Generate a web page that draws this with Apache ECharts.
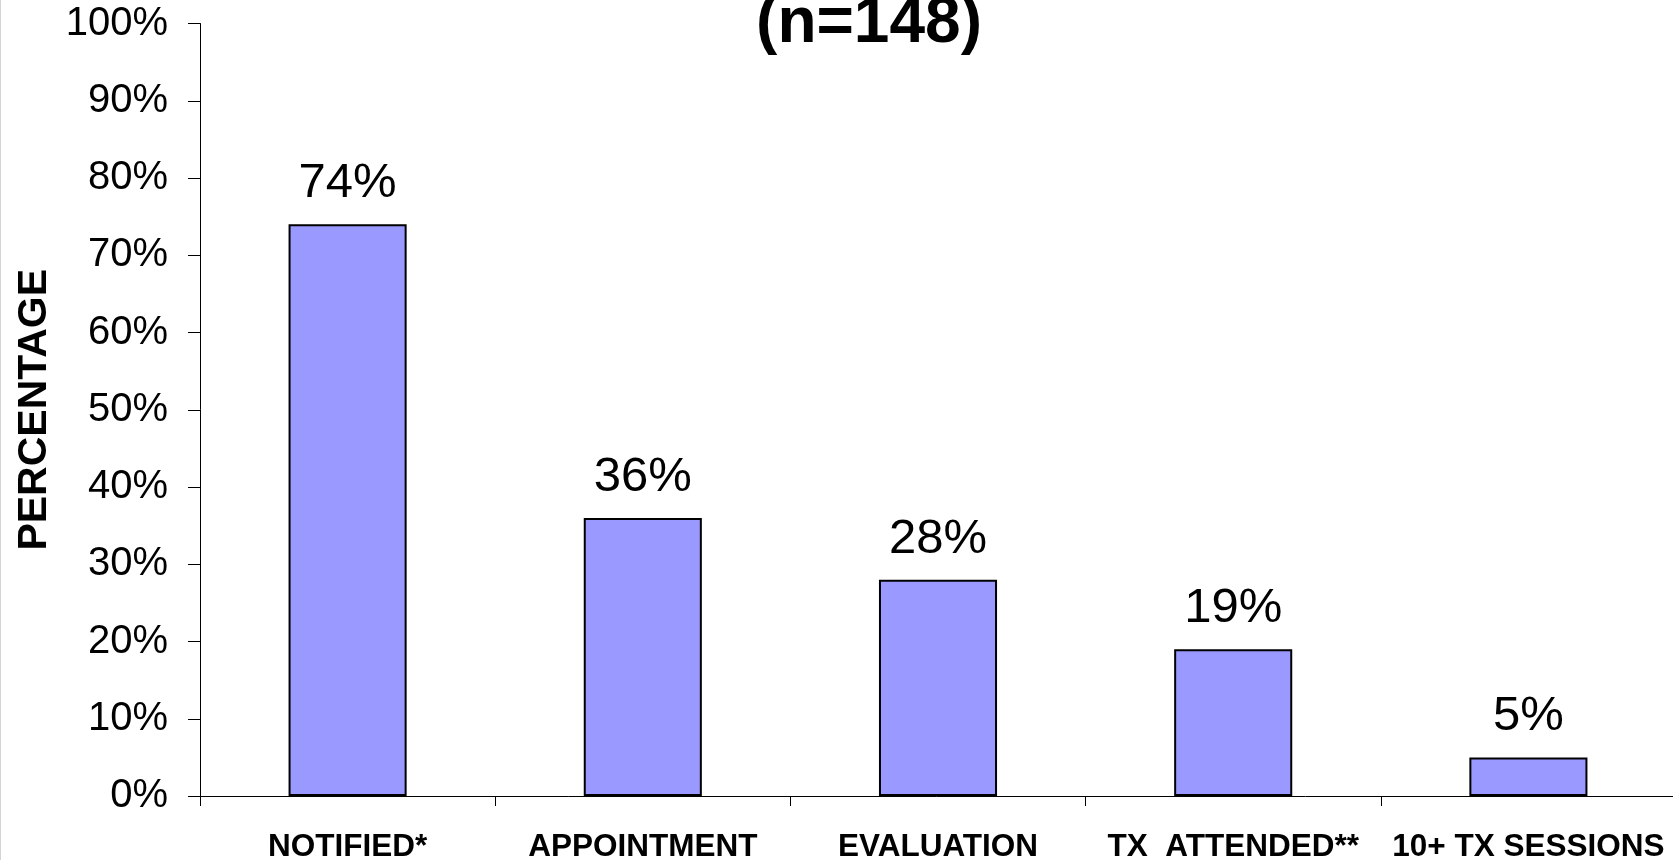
<!DOCTYPE html>
<html>
<head>
<meta charset="utf-8">
<title>(n=148)</title>
<script src="https://cdn.jsdelivr.net/npm/echarts@6/dist/echarts.min.js"></script>
<style>
  html, body { margin: 0; padding: 0; background: #ffffff; }
  #chart { width: 1673px; height: 860px; }
</style>
</head>
<body>
<div id="chart"></div>
<script>
// Treatment engagement stages and share of participants reaching each
const categories = ['NOTIFIED*', 'APPOINTMENT', 'EVALUATION', 'TX  ATTENDED**', '10+ TX SESSIONS'];
const percentages = [74, 36, 28, 19, 5];
const yTicks = { min: 0, max: 100, interval: 10 };
const titleText = '(n=148)';
const yAxisName = 'PERCENTAGE';

const FONT = '"Liberation Sans", Arial, Helvetica, sans-serif';

const chart = echarts.init(document.getElementById('chart'), null, { renderer: 'canvas' });

chart.setOption({
  backgroundColor: '#ffffff',
  animation: false,
  title: {
    text: titleText,
    left: 864,
    textAlign: 'center',
    top: -13,
    textStyle: { fontFamily: FONT, fontSize: 64, fontWeight: 'bold', color: '#000' }
  },
  // thin frame line along the left edge of the slide
  graphic: [{
    type: 'line',
    shape: { x1: 0.5, y1: 0, x2: 0.5, y2: 860 },
    style: { stroke: '#d4d4d4', lineWidth: 1 },
    silent: true
  }],
  grid: {
    left: 200, right: -3, top: 23.5, bottom: 64,
    containLabel: false,
    outerBoundsMode: 'none'
  },
  xAxis: {
    type: 'category',
    data: categories,
    boundaryGap: true,
    axisLine: { show: true, lineStyle: { color: '#000', width: 1 } },
    axisTick: { show: true, length: 10, lineStyle: { color: '#000', width: 1 } },
    axisLabel: {
      interval: 0,
      margin: 35,
      fontFamily: FONT,
      fontSize: 31.5,
      fontWeight: 'bold',
      color: '#000'
    }
  },
  yAxis: {
    type: 'value',
    min: yTicks.min,
    max: yTicks.max,
    interval: yTicks.interval,
    name: yAxisName,
    nameLocation: 'middle',
    nameGap: 145,
    nameTextStyle: { fontFamily: FONT, fontSize: 41, fontWeight: 'bold', color: '#000' },
    axisLine: { show: true, lineStyle: { color: '#000', width: 1 } },
    axisTick: { show: true, length: 12, lineStyle: { color: '#000', width: 1 } },
    splitLine: { show: false },
    axisLabel: {
      margin: 32,
      fontFamily: FONT,
      fontSize: 40,
      color: '#000',
      formatter: v => v + '%'
    }
  },
  series: [{
    type: 'bar',
    data: percentages,
    barWidth: '40%',
    itemStyle: { color: '#9999FF', borderColor: '#000', borderWidth: 2 },
    label: {
      show: true,
      position: 'top',
      distance: 16,
      fontFamily: FONT,
      fontSize: 49,
      color: '#000',
      formatter: p => p.value + '%'
    }
  }]
});
</script>
</body>
</html>
